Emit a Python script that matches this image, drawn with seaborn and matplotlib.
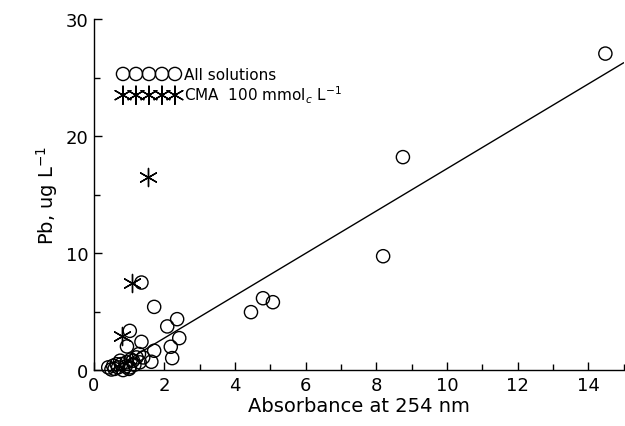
import numpy as np
import matplotlib
matplotlib.use("Agg")
import matplotlib.pyplot as plt
from matplotlib.ticker import MultipleLocator
import seaborn as sns

# All solutions (open circles)
abs_all = [14.48, 8.75, 8.19, 4.79, 5.07, 4.45, 1.35, 1.71, 2.36, 2.08, 2.42,
           2.18, 2.22, 1.02, 0.94, 1.35, 1.71, 1.63, 1.28,
           0.41, 0.55, 0.69, 0.78, 0.93, 1.02, 1.11, 1.21, 1.30, 1.40, 0.59,
           0.83, 0.65, 0.90, 1.05, 1.15, 0.75, 1.00, 0.50]
pb_all = [27.05, 18.2, 9.73, 6.14, 5.8, 4.95, 7.48, 5.4, 4.35, 3.73, 2.73,
          1.99, 1.02, 3.35, 2.02, 2.41, 1.65, 0.71, 1.37,
          0.23, 0.37, 0.23, 0.51, 0.66, 0.23, 0.80, 1.08, 0.66, 1.08, 0.10,
          0.0, 0.5, 0.3, 0.9, 0.45, 0.8, 0.1, 0.05]

# CMA 100 mmolc L-1 (asterisks)
abs_cma = [1.53, 1.07, 0.80]
pb_cma = [16.5, 7.4, 2.93]

# regression line
fit_slope = 1.81
fit_intercept = -0.88
fit_range = [0.5, 15]

sns.set_style("ticks")
plt.rcParams["font.family"] = ["DejaVu Sans"]
plt.rcParams["text.color"] = "black"
plt.rcParams["axes.labelcolor"] = "black"
plt.rcParams["xtick.color"] = "black"
plt.rcParams["ytick.color"] = "black"

fig = plt.figure(figsize=(6.25, 4.27), dpi=100)
ax = fig.add_axes([0.150, 0.131, 0.848, 0.822])

sns.scatterplot(x=abs_all, y=pb_all, ax=ax, marker="o", s=90,
                facecolor="none", edgecolor="black", linewidth=1.0,
                label="All solutions", clip_on=False, zorder=3)
sns.scatterplot(x=abs_cma, y=pb_cma, ax=ax, marker=(6, 2, 0), s=170,
                color="black", linewidth=1.0,
                label="CMA  100 mmol$_c$ L$^{-1}$", clip_on=False, zorder=3)

xfit = np.array(fit_range)
sns.lineplot(x=xfit, y=fit_slope * xfit + fit_intercept, ax=ax,
             color="black", linewidth=1.0, legend=False)

ax.set_xlim(0, 15)
ax.set_ylim(0, 30)
ax.xaxis.set_major_locator(MultipleLocator(2))
ax.xaxis.set_minor_locator(MultipleLocator(1))
ax.yaxis.set_major_locator(MultipleLocator(10))
ax.yaxis.set_minor_locator(MultipleLocator(5))
ax.tick_params(which="major", direction="in", length=6, width=1,
               labelsize=13, pad=4)
ax.tick_params(which="minor", direction="in", length=4, width=1)
sns.despine(ax=ax)
for sp in ["left", "bottom"]:
    ax.spines[sp].set_linewidth(1.0)
    ax.spines[sp].set_color("black")

ax.set_xlabel("Absorbance at 254 nm", fontsize=14, labelpad=2)
ax.set_ylabel("Pb, ug L$^{-1}$", fontsize=14, labelpad=4)

ax.legend(loc="upper left", bbox_to_anchor=(0.035, 0.88), frameon=False,
          scatterpoints=5, scatteryoffsets=[0.5], handlelength=4.0,
          handletextpad=0.3, labelspacing=0.1, fontsize=11,
          borderaxespad=0)

fig.savefig("out.png", dpi=100)
